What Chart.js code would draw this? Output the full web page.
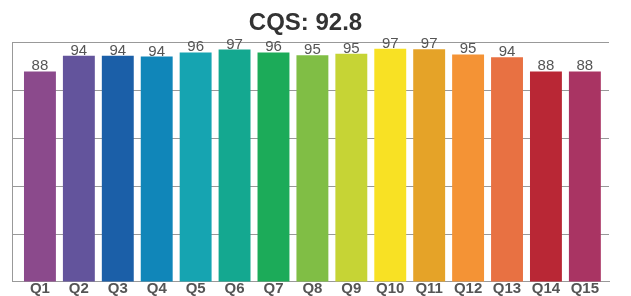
<!DOCTYPE html>
<html>
<head>
<meta charset="utf-8">
<script src="https://cdn.jsdelivr.net/npm/chart.js@4"></script>
<style>
  html, body { margin: 0; padding: 0; background: #fff; }
  #wrap { width: 631px; height: 296px; }
</style>
</head>
<body>
<div id="wrap"><canvas id="cqs-chart" width="631" height="296"></canvas></div>
<script>
// Данные графика
const questions = ['Q1', 'Q2', 'Q3', 'Q4', 'Q5', 'Q6', 'Q7', 'Q8', 'Q9', 'Q10', 'Q11', 'Q12', 'Q13', 'Q14', 'Q15'];
const scores = [87.9, 94.4, 94.4, 94.1, 95.8, 97.0, 95.8, 94.6, 95.3, 97.4, 97.1, 95.0, 93.8, 87.9, 87.9];
const barColors = ['#8b4a8c', '#63549c', '#1b5fa8', '#1086b9', '#16a4b1', '#14a890', '#1cab59', '#80be45',
                   '#c6d435', '#f8e124', '#e5a328', '#f49335', '#e87142', '#b92735', '#a93463'];
const titleText = 'CQS: 92.8';

const fontFamily = '"Liberation Sans", Arial, sans-serif';

// Подписи значений над столбиками
const valueLabels = {
  id: 'valueLabels',
  afterDatasetsDraw(chart) {
    const ctx = chart.ctx;
    ctx.save();
    ctx.font = '15px ' + fontFamily;
    ctx.fillStyle = '#555';
    ctx.textAlign = 'center';
    ctx.textBaseline = 'alphabetic';
    chart.getDatasetMeta(0).data.forEach((bar, i) => {
      ctx.fillText(Math.round(scores[i]), bar.x, bar.y - 1);
    });
    ctx.restore();
  }
};

const config = {
  type: 'bar',
  data: {
    datasets: [{
      data: scores.map((v, i) => ({ x: i, y: v })),
      backgroundColor: barColors,
      borderWidth: 0,
      barPercentage: 0.82,
      categoryPercentage: 1
    }]
  },
  options: {
    responsive: false,
    animation: false,
    layout: { padding: { left: 2, right: 22, top: 0, bottom: 0 } },
    plugins: {
      legend: { display: false },
      tooltip: { enabled: false },
      title: {
        display: true,
        text: titleText,
        color: '#333',
        font: { family: fontFamily, size: 24, weight: 'bold', lineHeight: 1.1 },
        padding: { top: 10, bottom: 6 }
      }
    },
    scales: {
      x: {
        type: 'linear',
        min: -0.70,
        max: 14.62,
        offset: false,
        grid: { display: false, drawTicks: false },
        border: { display: true, color: '#999', width: 1 },
        afterBuildTicks: (scale) => {
          scale.ticks = questions.map((q, i) => ({ value: i }));
        },
        ticks: {
          color: '#555',
          padding: 2,
          font: { family: fontFamily, size: 15, weight: 'bold', lineHeight: 0.667 },
          maxRotation: 0,
          autoSkip: false,
          callback: (v) => questions[v]
        }
      },
      y: {
        min: 0,
        max: 100,
        afterFit: (scale) => { scale.width = 10.7; },
        ticks: { display: false, stepSize: 20 },
        grid: { color: '#999', drawTicks: false },
        border: { display: true, color: '#999' }
      }
    }
  },
  plugins: [valueLabels]
};

new Chart(document.getElementById('cqs-chart'), config);
</script>
</body>
</html>
